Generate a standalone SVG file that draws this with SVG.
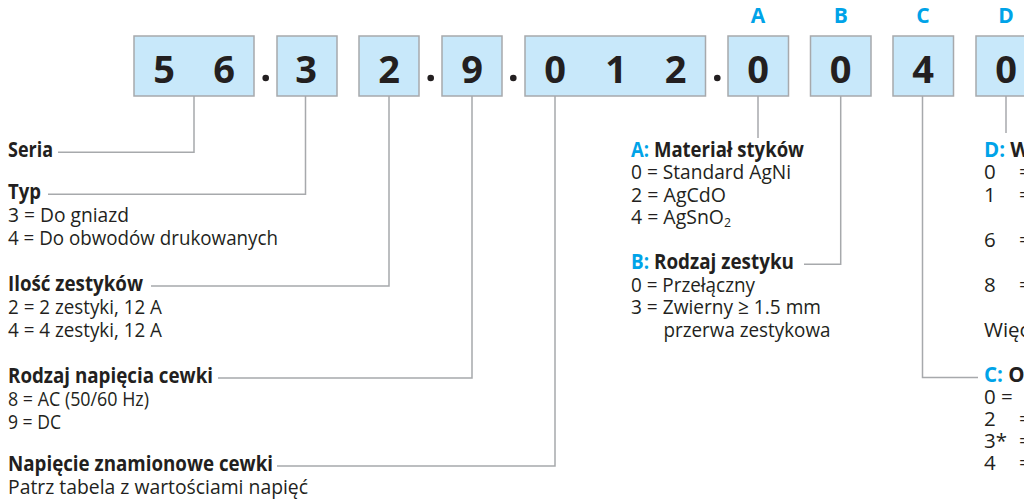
<svg xmlns="http://www.w3.org/2000/svg" width="1024" height="502" viewBox="0 0 1024 502">
  <style>
    .box { fill: #c8e8fa; stroke: #a7a9ac; stroke-width: 1.5; }
    .dig { font-family: "Open Sans", "Liberation Sans", sans-serif; font-weight: 700; font-size: 38px; fill: #231f20; text-anchor: middle; }
    .dot { fill: #231f20; }
    .key { font-family: "Open Sans", "Liberation Sans", sans-serif; font-weight: 700; font-size: 21px; fill: #00a3e8; text-anchor: middle; }
    .h { font-family: "Open Sans", "Liberation Sans", sans-serif; font-weight: 700; font-size: 20.5px; fill: #231f20; }
    .t { font-family: "Open Sans", "Liberation Sans", sans-serif; font-size: 20.5px; fill: #231f20; }
    .b { fill: #00a3e8; }
    .ln { fill: none; stroke: #a7a9ac; stroke-width: 1.5; }
  </style>

  <!-- code boxes -->
  <g id="box-series">
    <rect class="box" x="134" y="36" width="120" height="60"/>
    <text class="dig" x="164" y="82.5">5</text>
    <text class="dig" x="224" y="82.5">6</text>
  </g>
  <circle class="dot" cx="265.7" cy="78" r="3.3"/>
  <g id="box-type">
    <rect class="box" x="277" y="36" width="60" height="60"/>
    <text class="dig" x="306" y="82.5">3</text>
  </g>
  <g id="box-contacts">
    <rect class="box" x="359" y="36" width="60" height="60"/>
    <text class="dig" x="389" y="82.5">2</text>
  </g>
  <circle class="dot" cx="430.7" cy="78" r="3.3"/>
  <g id="box-coil-type">
    <rect class="box" x="442" y="36" width="60" height="60"/>
    <text class="dig" x="472" y="82.5">9</text>
  </g>
  <circle class="dot" cx="513.3" cy="78" r="3.3"/>
  <g id="box-coil-voltage">
    <rect class="box" x="525" y="36" width="180.5" height="60"/>
    <text class="dig" x="555" y="82.5">0</text>
    <text class="dig" x="616" y="82.5">1</text>
    <text class="dig" x="675.5" y="82.5">2</text>
  </g>
  <circle class="dot" cx="717.3" cy="78" r="3.3"/>
  <g id="box-a">
    <text class="key" x="758" y="22.5">A</text>
    <rect class="box" x="728" y="36" width="60.5" height="60"/>
    <text class="dig" x="758" y="82.5">0</text>
  </g>
  <g id="box-b">
    <text class="key" x="840.7" y="22.5">B</text>
    <rect class="box" x="810.5" y="36" width="60.5" height="60"/>
    <text class="dig" x="840.7" y="82.5">0</text>
  </g>
  <g id="box-c">
    <text class="key" x="923" y="22.5">C</text>
    <rect class="box" x="893" y="36" width="60.5" height="60"/>
    <text class="dig" x="923" y="82.5">4</text>
  </g>
  <g id="box-d">
    <text class="key" x="1006" y="22.5">D</text>
    <rect class="box" x="976" y="36" width="60.5" height="60"/>
    <text class="dig" x="1006" y="82.5">0</text>
  </g>

  <!-- connectors -->
  <g id="connectors">
    <polyline class="ln" points="194,96 194,152.3 58,152.3"/>
    <polyline class="ln" points="305.5,96 305.5,194.3 48,194.3"/>
    <polyline class="ln" points="389,96 389,286 151,286"/>
    <polyline class="ln" points="472,96 472,378 218,378"/>
    <polyline class="ln" points="555,96 555,466 277,466"/>
    <line class="ln" x1="758" y1="96" x2="758" y2="138"/>
    <polyline class="ln" points="840.7,96 840.7,264.3 804,264.3"/>
    <polyline class="ln" points="922.5,96 922.5,377.5 978,377.5"/>
    <line class="ln" x1="1006" y1="96" x2="1006" y2="133"/>
  </g>

  <!-- left legends -->
  <g id="legend-series">
    <text class="h" x="8" y="157" textLength="45" lengthAdjust="spacingAndGlyphs">Seria</text>
  </g>
  <g id="legend-type">
    <text class="h" x="8" y="199" textLength="33" lengthAdjust="spacingAndGlyphs">Typ</text>
    <text class="t" x="8" y="221.5" textLength="121" lengthAdjust="spacingAndGlyphs">3 = Do gniazd</text>
    <text class="t" x="8" y="244.5" textLength="270" lengthAdjust="spacingAndGlyphs">4 = Do obwodów drukowanych</text>
  </g>
  <g id="legend-contacts">
    <text class="h" x="8" y="291" textLength="135" lengthAdjust="spacingAndGlyphs">Ilość zestyków</text>
    <text class="t" x="8" y="314" textLength="154" lengthAdjust="spacingAndGlyphs">2 = 2 zestyki, 12 A</text>
    <text class="t" x="8" y="337" textLength="154" lengthAdjust="spacingAndGlyphs">4 = 4 zestyki, 12 A</text>
  </g>
  <g id="legend-coil-type">
    <text class="h" x="8" y="383" textLength="205" lengthAdjust="spacingAndGlyphs">Rodzaj napięcia cewki</text>
    <text class="t" x="8" y="406" textLength="141" lengthAdjust="spacingAndGlyphs">8 = AC (50/60 Hz)</text>
    <text class="t" x="8" y="429" textLength="53" lengthAdjust="spacingAndGlyphs">9 = DC</text>
  </g>
  <g id="legend-coil-voltage">
    <text class="h" x="8" y="471" textLength="265" lengthAdjust="spacingAndGlyphs">Napięcie znamionowe cewki</text>
    <text class="t" x="8" y="494" textLength="300" lengthAdjust="spacingAndGlyphs">Patrz tabela z wartościami napięć</text>
  </g>

  <!-- right legends -->
  <g id="legend-a">
    <text class="h" x="631" y="156.5" textLength="173" lengthAdjust="spacingAndGlyphs"><tspan class="b">A:</tspan> Materiał styków</text>
    <text class="t" x="631" y="179" textLength="160" lengthAdjust="spacingAndGlyphs">0 = Standard AgNi</text>
    <text class="t" x="631" y="201.5" textLength="95" lengthAdjust="spacingAndGlyphs">2 = AgCdO</text>
    <text class="t" x="631" y="224" textLength="100" lengthAdjust="spacingAndGlyphs">4 = AgSnO<tspan font-size="13" dy="3">2</tspan></text>
  </g>
  <g id="legend-b">
    <text class="h" x="631" y="269" textLength="163" lengthAdjust="spacingAndGlyphs"><tspan class="b">B:</tspan> Rodzaj zestyku</text>
    <text class="t" x="631" y="291.5" textLength="124" lengthAdjust="spacingAndGlyphs">0 = Przełączny</text>
    <text class="t" x="631" y="314" textLength="190" lengthAdjust="spacingAndGlyphs">3 = Zwierny ≥ 1.5 mm</text>
    <text class="t" x="663.5" y="337" textLength="167" lengthAdjust="spacingAndGlyphs">przerwa zestykowa</text>
  </g>
  <g id="legend-d">
    <text class="h" x="984" y="156.5"><tspan class="b">D:</tspan> W</text>
    <text class="t" x="984" y="179">0</text>
    <text class="t" x="1019" y="179">=</text>
    <text class="t" x="984" y="201.5">1</text>
    <text class="t" x="1019" y="201.5">=</text>
    <text class="t" x="984" y="246.5">6</text>
    <text class="t" x="1019" y="246.5">=</text>
    <text class="t" x="984" y="291.5">8</text>
    <text class="t" x="1019" y="291.5">=</text>
    <text class="t" x="984" y="336.5">Więc</text>
  </g>
  <g id="legend-c">
    <text class="h" x="984" y="381.5"><tspan class="b">C:</tspan> Op</text>
    <text class="t" x="984" y="403.5">0 =</text>
    <text class="t" x="984" y="425.5">2</text>
    <text class="t" x="1019" y="425.5">=</text>
    <text class="t" x="984" y="447.5">3*</text>
    <text class="t" x="1019" y="447.5">=</text>
    <text class="t" x="984" y="470">4</text>
    <text class="t" x="1019" y="470">=</text>
  </g>
</svg>
